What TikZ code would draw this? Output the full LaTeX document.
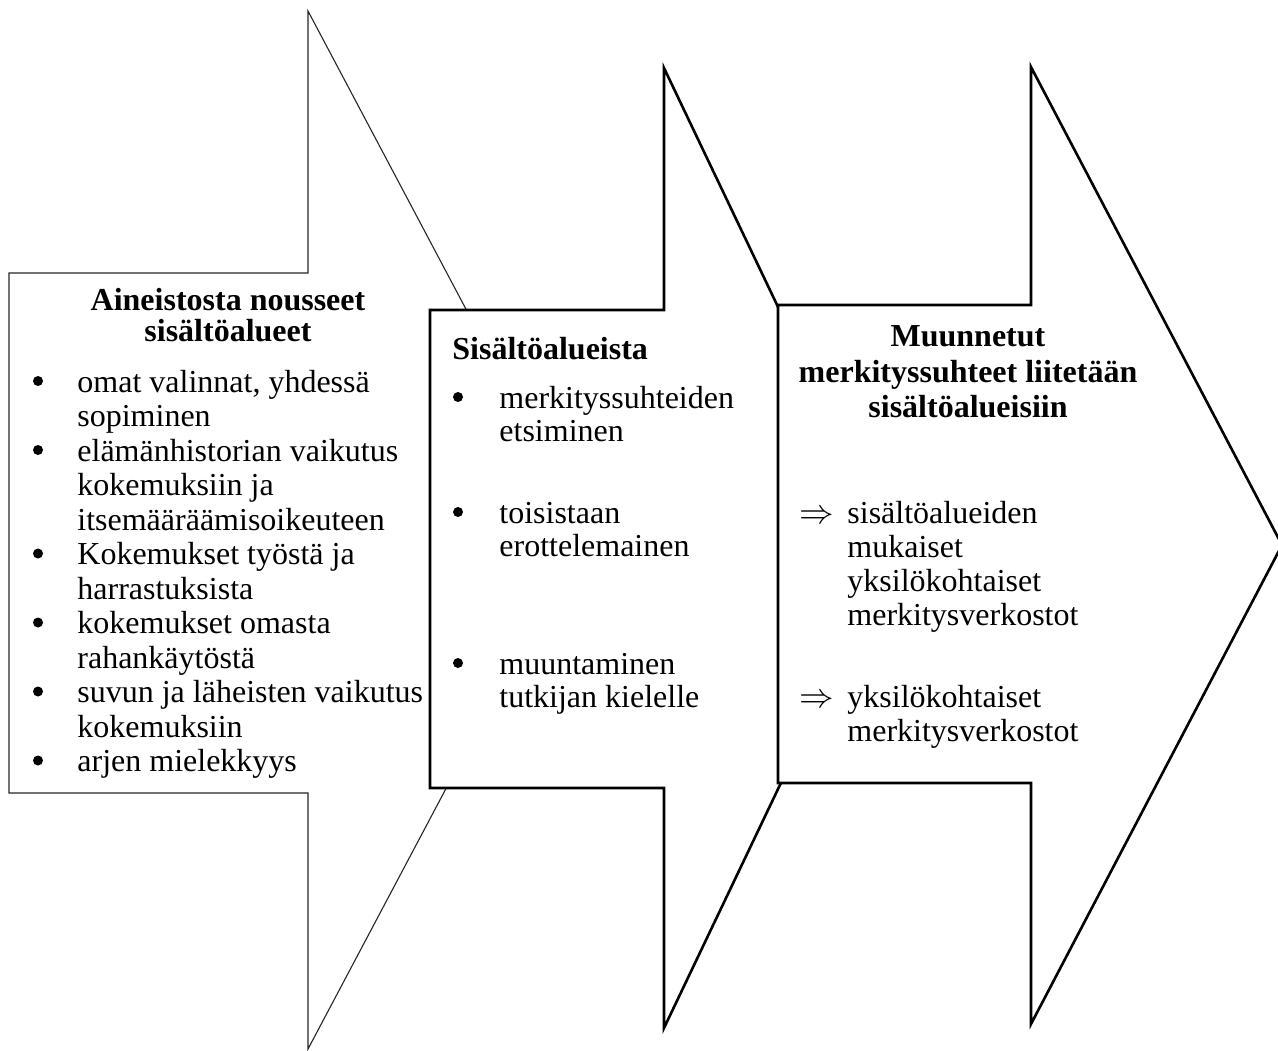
\documentclass[tikz,border=0pt]{standalone}
\usepackage{fontspec}
\setmainfont{Liberation Serif}
\begin{document}
\begin{tikzpicture}[x=0.5pt,y=-0.5pt,
  thinarrow/.style={draw=black!85, line width=0.55pt, fill=white, line join=miter},
  thickarrow/.style={draw=black, line width=1.3pt, fill=white, line join=miter},
  txt/.style={anchor=base west, inner sep=0pt, font=\fontsize{16pt}{17pt}\selectfont},
  head/.style={anchor=base, inner sep=0pt, font=\fontsize{16pt}{17pt}\selectfont\bfseries},
  headl/.style={anchor=base west, inner sep=0pt, font=\fontsize{16pt}{17pt}\selectfont\bfseries},
  bul/.style={circle, fill=black, draw=none, inner sep=0pt, minimum size=5pt},
]
\useasboundingbox (0,0) rectangle (1278,1050);
\fill[white] (0,0) rectangle (1278,1050);

% arrow 1 (thin)
\draw[thinarrow] (9,273) -- (308,273) -- (308,11) -- (583,530) -- (308,1049) -- (308,793) -- (9,793) -- cycle;
% arrow 2
\draw[thickarrow] (430,310) -- (664,310) -- (664,68) -- (893,548) -- (664,1028) -- (664,788) -- (430,788) -- cycle;
% arrow 3
\draw[thickarrow] (778,305) -- (1031,305) -- (1031,67) -- (1282,545) -- (1031,1024) -- (1031,783) -- (778,783) -- cycle;

% box 1 text
\node[head] (h1a) at (228,310) {Aineistosta nousseet};
\node[head] (h1b) at (228,341) {sisältöalueet};
\node[bul] (p1) at (38,381) {};
\node[txt] (a1) at (77,392) {omat valinnat, yhdessä};
\node[txt] (a2) at (77,426.5) {sopiminen};
\node[bul] (p2) at (38,450) {};
\node[txt] (a3) at (77,461) {elämänhistorian vaikutus};
\node[txt] (a4) at (77,495.5) {kokemuksiin ja};
\node[txt] (a5) at (77,530) {itsemääräämisoikeuteen};
\node[bul] (p3) at (38,553.5) {};
\node[txt] (a6) at (77,564.5) {Kokemukset työstä ja};
\node[txt] (a7) at (77,599) {harrastuksista};
\node[bul] (p4) at (38,622.5) {};
\node[txt] (a8) at (77,633.5) {kokemukset omasta};
\node[txt] (a9) at (77,668) {rahankäytöstä};
\node[bul] (p5) at (38,691.5) {};
\node[txt] (a10) at (77,702.5) {suvun ja läheisten vaikutus};
\node[txt] (a11) at (77,737) {kokemuksiin};
\node[bul] (p6) at (38,760.5) {};
\node[txt] (a12) at (77,771.5) {arjen mielekkyys};

% box 2 text
\node[headl] (h2) at (452,359) {Sisältöalueista};
\node[bul] (q1) at (458,397) {};
\node[txt] (b1) at (499,408) {merkityssuhteiden};
\node[txt] (b2) at (499,441.5) {etsiminen};
\node[bul] (q2) at (458,512) {};
\node[txt] (b3) at (499,523) {toisistaan};
\node[txt] (b4) at (499,556.5) {erottelemainen};
\node[bul] (q3) at (458,663) {};
\node[txt] (b5) at (499,674) {muuntaminen};
\node[txt] (b6) at (499,707.5) {tutkijan kielelle};

% box 3 text
\node[head] (h3a) at (968,346) {Muunnetut};
\node[head] (h3b) at (968,382) {merkityssuhteet liitetään};
\node[head] (h3c) at (968,417) {sisältöalueisiin};
\node[txt] (r1) at (799,523) {$\Rightarrow$};
\node[txt] (c1) at (847,523) {sisältöalueiden};
\node[txt] (c2) at (847,557) {mukaiset};
\node[txt] (c3) at (847,591) {yksilökohtaiset};
\node[txt] (c4) at (847,625) {merkitysverkostot};
\node[txt] (r2) at (799,707) {$\Rightarrow$};
\node[txt] (c5) at (847,707) {yksilökohtaiset};
\node[txt] (c6) at (847,741) {merkitysverkostot};
\end{tikzpicture}
\end{document}
